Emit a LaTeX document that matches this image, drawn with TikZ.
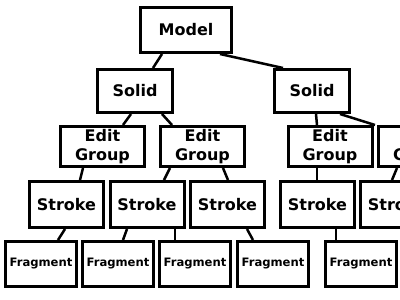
\documentclass[tikz,border=0pt]{standalone}
\usepackage{fontspec}
\setmainfont{DejaVu Sans}
\begin{document}
\begin{tikzpicture}[x=1pt,y=-1pt,
  box/.style={draw,line width=3pt,inner sep=0pt,align=center,
    font=\bfseries\fontsize{16}{19.5}\selectfont},
  bigbox/.style={box,minimum width=91pt,minimum height=45pt},
  solidbox/.style={box,minimum width=75pt,minimum height=43pt},
  egbox/.style={box,minimum width=84pt,minimum height=40pt},
  stbox/.style={box,minimum width=74pt,minimum height=46pt},
  frbox/.style={box,minimum width=71pt,minimum height=45pt,
    font=\bfseries\fontsize{11.6}{14}\selectfont},
  link/.style={line width=2.5pt}]
\clip (0,0) rectangle (400,300);
\fill[white] (0,0) rectangle (400,300);
\node[bigbox] (model) at (186,30) {Model};
\node[solidbox] (solidA) at (135,91) {Solid};
\node[solidbox] (solidB) at (312,91) {Solid};
\node[egbox] (egA) at (102.5,146.5) {Edit\\Group};
\node[egbox] (egB) at (202.5,146.5) {Edit\\Group};
\node[egbox] (egC) at (330,146.5) {Edit\\Group};
\node[egbox] (egD) at (420.5,146.5) {Edit\\Group};
\node[stbox] (stA) at (66.5,204.5) {Stroke};
\node[stbox] (stB) at (147,204.5) {Stroke};
\node[stbox] (stC) at (227.5,204.5) {Stroke};
\node[stbox] (stD) at (317.5,204.5) {Stroke};
\node[stbox] (stE) at (397.5,204.5) {Stroke};
\node[frbox] (frA) at (41,264) {Fragment};
\node[frbox] (frB) at (118,264) {Fragment};
\node[frbox] (frC) at (195,264) {Fragment};
\node[frbox] (frD) at (273,264) {Fragment};
\node[frbox] (frE) at (361,264) {Fragment};
\draw[link] ([xshift=-24pt]model.south) -- ([xshift=18pt]solidA.north);
\draw[link] ([xshift=34pt]model.south) -- ([xshift=-29pt]solidB.north);
\draw[link] ([xshift=-4pt]solidA.south) -- ([xshift=20.5pt]egA.north);
\draw[link] ([xshift=27pt]solidA.south) -- ([xshift=-30.5pt]egB.north);
\draw[link] ([xshift=4pt]solidB.south) -- ([xshift=-13pt]egC.north);
\draw[link] ([xshift=28pt]solidB.south) -- ([xshift=-45.5pt]egD.north);
\draw[link] ([xshift=-19.5pt]egA.south) -- ([xshift=13.5pt]stA.north);
\draw[link] ([xshift=-32.5pt]egB.south) -- ([xshift=17pt]stB.north);
\draw[link] ([xshift=20.5pt]egB.south) -- ([xshift=0.5pt]stC.north);
\draw[link] ([xshift=-13pt]egC.south) -- ([xshift=-0.5pt]stD.north);
\draw[link] ([xshift=-23.5pt]egD.south) -- ([xshift=-5.5pt]stE.north);
\draw[link] ([xshift=-1.5pt]stA.south) -- ([xshift=17pt]frA.north);
\draw[link] ([xshift=-20pt]stB.south) -- ([xshift=5pt]frB.north);
\draw[link] ([xshift=28pt]stB.south) -- ([xshift=-20pt]frC.north);
\draw[link] ([xshift=19.5pt]stC.south) -- ([xshift=-20pt]frD.north);
\draw[link] ([xshift=18.5pt]stD.south) -- ([xshift=-25pt]frE.north);
\end{tikzpicture}
\end{document}
